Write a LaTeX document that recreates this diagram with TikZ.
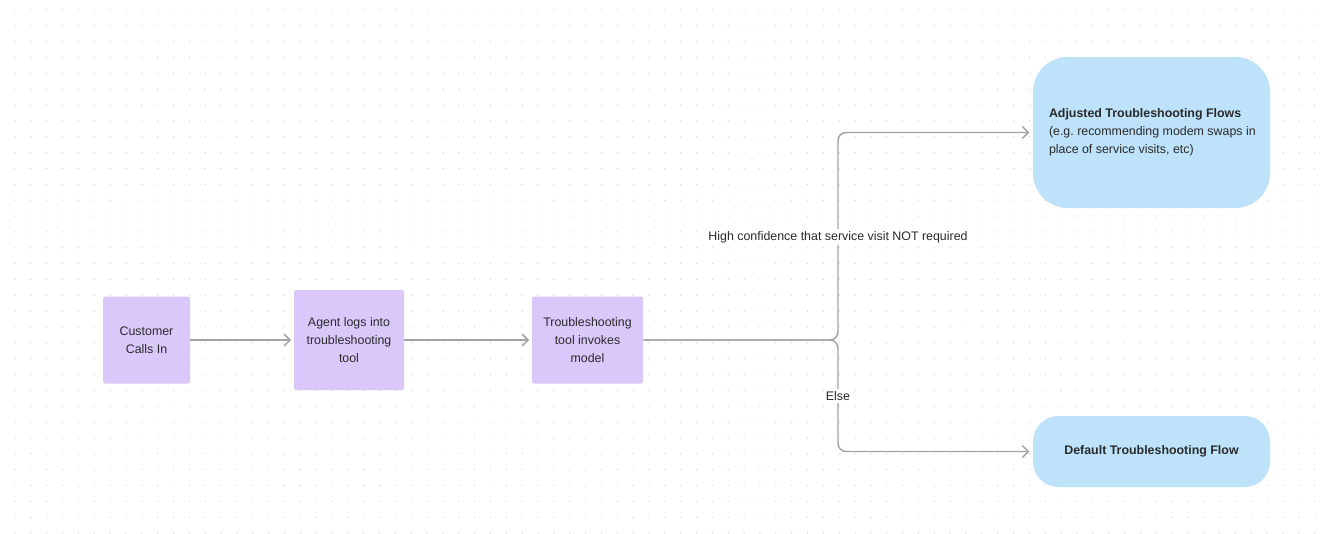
\documentclass[tikz,border=0pt]{standalone}
\usepackage{fontspec}
\setmainfont{Liberation Sans}
\usetikzlibrary{arrows.meta}
\definecolor{lav}{HTML}{DBC8FA}
\definecolor{sky}{HTML}{BDE2FA}
\definecolor{ink}{HTML}{2A2A2A}
\definecolor{wire}{HTML}{A3A3A3}
\definecolor{dotc}{HTML}{D6D6D6}
\tikzset{
  x=0.75pt, y=-0.75pt,
  every node/.style={font=\fontsize{9.3}{13.6}\selectfont, text=ink},
  stepbox/.style={fill=lav, rounded corners=1.5pt, align=center, inner sep=0pt},
  outcome/.style={fill=sky, inner sep=0pt},
  flow/.style={draw=wire, line width=1.1pt, -{Straight Barb[length=4.5pt,width=9pt]}, shorten >=2pt},
  branch/.style={flow, rounded corners=6pt, shorten >=2.5pt},
  cond/.style={fill=white, inner sep=1.5pt},
}
\begin{document}
\begin{tikzpicture}
  % canvas and dotted grid
  \fill[white] (0,0) rectangle (1324,533);
  \useasboundingbox (0,0) rectangle (1324,533);
  \foreach \i in {0,...,82} {
    \foreach \j in {0,...,33} {
      \fill[dotc] ({15+\i*15.85},{10+\j*15.85}) circle (0.55pt);
    }
  }

  % process steps
  \node[stepbox, minimum width=65.25pt, minimum height=65.25pt] (cust) at (146.5,340) {Customer\\Calls In};
  \node[stepbox, minimum width=82.5pt, minimum height=75pt] (agent) at (349,340) {Agent logs into\\troubleshooting\\tool};
  \node[stepbox, minimum width=83.25pt, minimum height=65.25pt] (tool) at (587.5,340) {Troubleshooting\\tool invokes\\model};

  % outcomes
  \node[outcome, rounded corners=26pt, minimum width=177.75pt, minimum height=113.25pt] (adj) at (1151.5,132.5) {};
  \node[anchor=west, align=left, inner sep=0pt] (adjtext) at ([xshift=12pt]adj.west)
    {\textbf{Adjusted Troubleshooting Flows}\\(e.g.\ recommending modem swaps in\\place of service visits, etc)};
  \node[outcome, rounded corners=19pt, minimum width=177.75pt, minimum height=53.25pt, align=center] (def) at (1151.5,451.5)
    {\textbf{Default Troubleshooting Flow}};

  % connectors
  \coordinate (split) at (838,340);
  \draw[flow] (cust) -- (agent);
  \draw[flow] (agent) -- (tool);
  \draw[branch] (tool.east) -- (split) |- (adj.west);
  \draw[branch] (tool.east) -- (split) |- (def.west);

  % branch conditions
  \node[cond] (hi) at (838,237) {High confidence that service visit NOT required};
  \node[cond] (else) at (838,396) {Else};
\end{tikzpicture}
\end{document}
